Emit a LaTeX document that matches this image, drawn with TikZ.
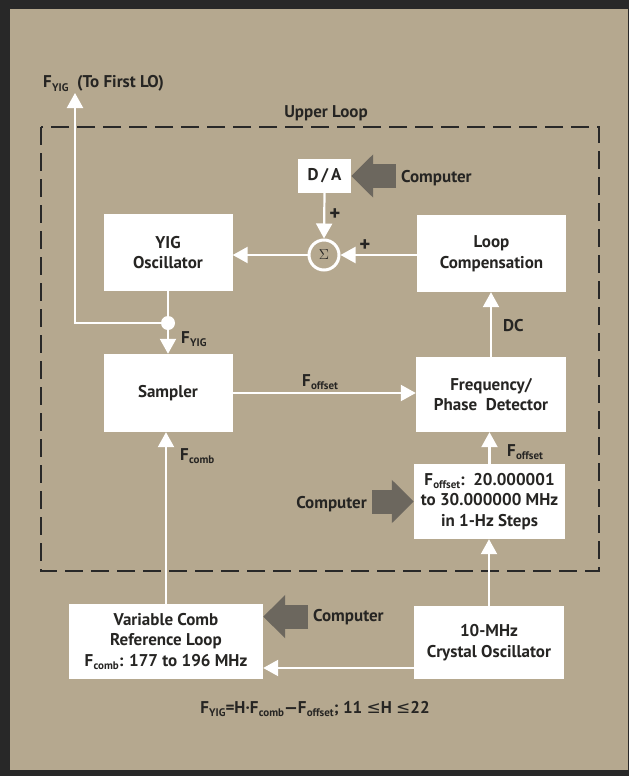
\documentclass[tikz,border=0pt]{standalone}
\usepackage{fontspec}
\setmainfont{PT Sans}
\newfontfamily\djfont{DejaVu Sans}
\usetikzlibrary{arrows.meta,calc}
\definecolor{bgtan}{RGB}{181,168,143}
\definecolor{ink}{RGB}{38,37,35}
\definecolor{frame}{RGB}{40,40,40}
\definecolor{arrowgray}{RGB}{108,103,94}
\newcommand\boxfont{\fontsize{17}{20.5}\selectfont\bfseries}
\newcommand\Fs[1]{F\kern0.3pt\raisebox{-3.5pt}{\fontsize{11}{11}\selectfont #1}}
\tikzset{
  box/.style={fill=white, inner sep=0pt, align=center, text=ink, font=\boxfont},
  wline/.style={draw=white, line width=2.2pt},
  warrow/.style={wline, -{Triangle[width=16pt,length=15pt]}},
  bigarrow/.style={draw=arrowgray, line width=24pt, -{Triangle[width=42pt,length=22pt]}},
  lbl/.style={text=ink, font=\boxfont, inner sep=0pt},
  complbl/.style={lbl, inner xsep=5pt},
  plus/.style={text=ink, font=\fontsize{21}{21}\selectfont\bfseries, inner sep=0pt},
}
\begin{document}
\begin{tikzpicture}[x=1pt,y=-1pt]
\useasboundingbox (0,0) rectangle (629,776);
\fill[frame] (0,0) rectangle (629,776);
\fill[bgtan] (10,9) rectangle (628,770);
% dashed upper loop
\draw[draw=frame, line width=2pt, dash pattern=on 18pt off 8pt] (41,127) rectangle (599,571);
\node[lbl, anchor=base] at (326,117) {Upper Loop};
% boxes
\node[box, minimum width=53pt, minimum height=34pt] (DA) at (324.5,176) {D\,/\,A};
\node[box, minimum width=129pt, minimum height=77pt] (YIG) at (168,252.5) {YIG\\Oscillator};
\node[box, minimum width=149pt, minimum height=77pt] (LC) at (491.5,253.5) {Loop\\Compensation};
\node[box, minimum width=129pt, minimum height=78pt] (SMP) at (168,393) {Sampler};
\node[box, minimum width=150pt, minimum height=75pt] (FPD) at (491,394.5) {Frequency/\\Phase\ \ Detector};
\node[box, minimum width=151pt, minimum height=75pt] (FO) at (489.5,501.5) {\Fs{offset}:\ \ 20.000001\\to 30.000000 MHz\\in 1-Hz Steps};
\node[box, minimum width=194pt, minimum height=75pt] (VC) at (166,641.5) {Variable Comb\\Reference Loop\\\Fs{comb}: 177 to 196 MHz};
\node[box, minimum width=150pt, minimum height=73pt] (XT) at (489,642.5) {10-MHz\\Crystal Oscillator};
% summing junction and tap
\node[circle, draw=white, line width=3pt, fill=bgtan, minimum size=30pt, inner sep=0pt, text=ink] (sig) at (324,255) {\fontsize{15}{15}\selectfont$\Sigma$};
\node[circle, fill=white, minimum size=14pt, inner sep=0pt] (dot) at (168,323) {};
\coordinate (out) at (75,93);
% connectors
\draw[warrow] (DA.south) -- (sig.north);
\draw[warrow] (sig.east -| LC.west) -- (sig.east);
\draw[warrow] (sig.west) -- (sig.west -| YIG.east);
\draw[wline] (YIG.south) -- (dot);
\draw[warrow] (dot) -- (SMP.north);
\draw[warrow] (dot) -- (dot -| out) -- (out);
\draw[warrow] (SMP.east) -- (SMP.east -| FPD.west);
\draw[warrow] (FPD.north) -- (FPD.north |- LC.south);
\draw[warrow] (FO.north) -- (FO.north |- FPD.south);
\draw[warrow] (XT.north) -- (XT.north |- FO.south);
\coordinate (xa) at ([yshift=-25.5pt]XT.west);
\draw[warrow] (xa) -- (xa -| VC.east);
\draw[warrow] (VC.north) -- (VC.north |- SMP.south);
% computer inputs
\node[complbl, anchor=base west] (C1) at (396,182) {Computer};
\node[complbl, anchor=base east] (C2) at (372,508) {Computer};
\node[complbl, anchor=base west] (C3) at (308,621) {Computer};
\draw[bigarrow] (DA.east -| C1.west) -- (DA.east);
\draw[bigarrow] (FO.west -| C2.east) -- (FO.west);
\draw[bigarrow] (C3.west) -- (C3.west -| VC.east);
% labels
\node[lbl, anchor=base west] at (43,88) {\Fs{YIG}\ \ (To First LO)};
\node[plus] at (335,215) {+};
\node[plus] at (365,246) {+};
\node[lbl, anchor=base west] at (503,331) {DC};
\node[lbl, anchor=base west] at (181,343) {\Fs{YIG}};
\node[lbl, anchor=base west] at (302,386) {\Fs{offset}};
\node[lbl, anchor=base west] at (180,460) {\Fs{comb}};
\node[lbl, anchor=base west] at (507,456) {\Fs{offset}};
\node[lbl, anchor=base] at (315,713) {\Fs{YIG}=H\textperiodcentered\Fs{comb}\textemdash\Fs{offset}; 11 {\djfont\mdseries ≤}H {\djfont\mdseries ≤}22};
\end{tikzpicture}
\end{document}
